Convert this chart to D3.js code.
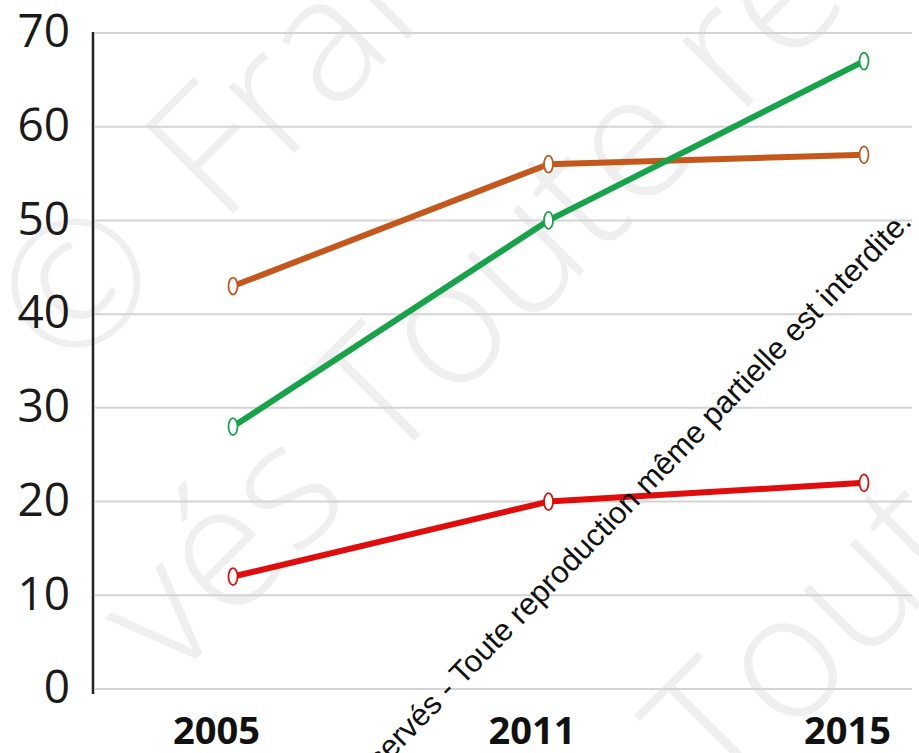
<!DOCTYPE html>
<html>
<head>
<meta charset="utf-8">
<script src="https://cdn.jsdelivr.net/npm/d3@7"></script>
<style>
  html, body { margin: 0; padding: 0; background: #fff; }
  svg { display: block; }
</style>
</head>
<body>
<svg id="chart" width="919" height="753"></svg>
<script>
// Years on the horizontal axis
const years = ["2005", "2011", "2015"];

// Series values, one per year
const brownValues = [43, 56, 57];
const greenValues = [28, 50, 67];
const redValues = [12, 20, 22];

// Vertical axis ticks
const yTicks = [0, 10, 20, 30, 40, 50, 60, 70];

const series = [
  { name: "brown", values: brownValues, color: "#c4581c" },
  { name: "green", values: greenValues, color: "#16a34a" },
  { name: "red", values: redValues, color: "#e00d0d" }
];

const svg = d3.select("#chart");

const x = d3.scalePoint().domain(years).range([233, 864]);
const y = d3.scaleLinear().domain([0, 70]).range([689, 33]);

// Faint background watermark, large diagonal lettering
const wm = svg.append("g")
  .attr("fill", "#efefef")
  .attr("font-family", "Open Sans, sans-serif")
  .attr("font-weight", 300)
  .attr("font-size", 175);
const wmLines = [
  { at: [221, 226], lead: "©", gap: -70, text: "France" },
  { at: [385, 470], lead: "vés", gap: -45, text: "Toute re" },
  { at: [722, 804], lead: "", gap: 0, text: "Toute" }
];
wmLines.forEach(l => {
  const g = wm.append("g").attr("transform", `translate(${l.at[0]},${l.at[1]}) rotate(-45)`);
  if (l.lead) g.append("text").attr("text-anchor", "end").attr("x", l.gap).text(l.lead);
  g.append("text").text(l.text);
});

// Horizontal gridlines
svg.append("g")
  .selectAll("line")
  .data(yTicks)
  .join("line")
  .attr("x1", 95)
  .attr("x2", 912)
  .attr("y1", d => y(d))
  .attr("y2", d => y(d))
  .attr("stroke", "#d4d4d4")
  .attr("stroke-width", 2);

// Y axis with labels
const yAxis = svg.append("g")
  .attr("transform", "translate(93,0)")
  .call(d3.axisLeft(y).tickValues(yTicks).tickSize(0).tickPadding(23));
yAxis.select(".domain")
  .attr("d", `M0,${y(70) - 1}V${y(0) + 5}`)
  .attr("stroke", "#222")
  .attr("stroke-width", 2.5);
yAxis.selectAll("text")
  .attr("font-family", "Open Sans, sans-serif")
  .attr("font-size", 46)
  .attr("fill", "#1a1a1a")
  .attr("dy", "0.3em");

// X axis labels
const xAxis = svg.append("g")
  .attr("transform", `translate(-17,${y(0)})`)
  .call(d3.axisBottom(x).tickSize(0).tickPadding(0));
xAxis.select(".domain").remove();
xAxis.selectAll("text")
  .attr("font-family", "Open Sans, sans-serif")
  .attr("font-weight", 700)
  .attr("font-size", 38)
  .attr("fill", "#111")
  .attr("dy", "1.45em");

// Lines
const line = d3.line()
  .x((d, i) => x(years[i]))
  .y(d => y(d));

const lines = svg.append("g");
series.forEach(s => {
  lines.append("path")
    .datum(s.values)
    .attr("d", line)
    .attr("fill", "none")
    .attr("stroke", s.color)
    .attr("stroke-width", 6)
    .attr("stroke-linejoin", "round");
});

// Point markers
series.forEach(s => {
  lines.append("g")
    .selectAll("ellipse")
    .data(s.values)
    .join("ellipse")
    .attr("cx", (d, i) => x(years[i]))
    .attr("cy", d => y(d))
    .attr("rx", 4.5)
    .attr("ry", 8.5)
    .attr("fill", "#fff")
    .attr("stroke", s.color)
    .attr("stroke-width", 1.8);
});

// Copyright notice running diagonally across the plot
svg.append("text")
  .attr("transform", "translate(913,223) rotate(-45.8)")
  .attr("text-anchor", "end")
  .attr("font-family", "Liberation Sans, Arial, sans-serif")
  .attr("font-size", 31)
  .attr("fill", "#111")
  .text("Tous droits réservés - Toute reproduction même partielle est interdite.");
</script>
</body>
</html>
